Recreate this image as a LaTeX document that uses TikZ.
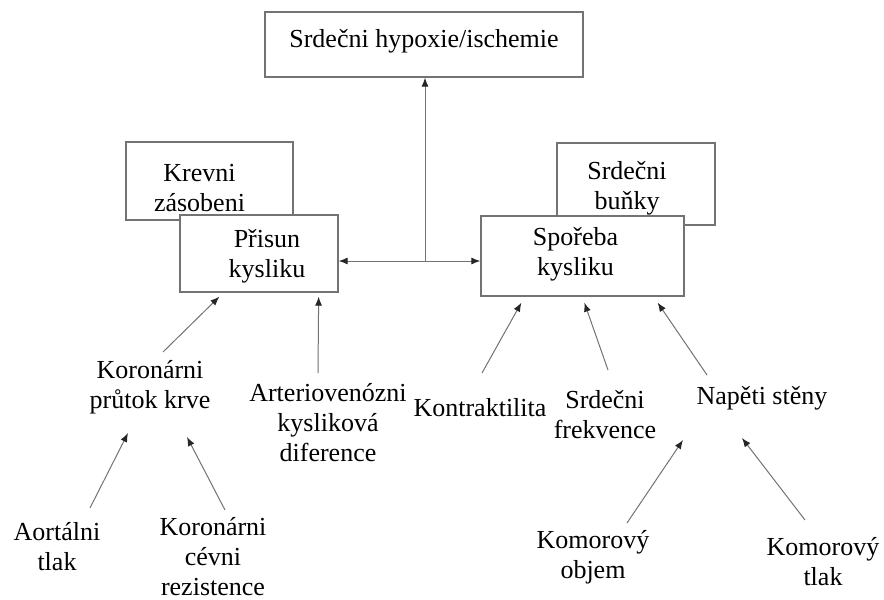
\documentclass[tikz,border=0pt]{standalone}
\usepackage{fontspec}
\setmainfont{Liberation Serif}
\usepackage{tikz}
\usetikzlibrary{arrows.meta,calc}

\begin{document}
\begin{tikzpicture}
[x=1pt,y=-1pt,
  boxDecorate/.style={shape=rectangle,draw=black!55,line width=1.3pt,fill=white,inner sep=0pt},%
  textDecorate/.style={inner sep=0pt,align=center,font=\fontsize{26}{30}\selectfont},%
  arrowDecorate/.style={draw=black!55,line width=1pt,
    -{Latex[length=9pt,width=7pt,color=black!85]}}]
\fill[white] (0,0) rectangle (884,600);
\useasboundingbox (0,0) rectangle (884,600);
%% boxes, text set off the centre as in the figure
\node (hypoxie) at (424,44.5) [boxDecorate,minimum width=318pt,minimum height=65pt,
  label={[textDecorate,yshift=3pt]center:{Srdečni hypoxie/ischemie}}] {};
\node (krevni) at (209.5,181) [boxDecorate,minimum width=167pt,minimum height=78pt,
  label={[textDecorate,xshift=-10pt,yshift=-7pt]center:{Krevni\\zásobeni}}] {};
\node (prisun) at (259,253.5) [boxDecorate,minimum width=158pt,minimum height=77pt,
  label={[textDecorate,xshift=8pt,yshift=-3pt]center:{Přisun\\kysliku}}] {};
\node (bunky) at (636,184) [boxDecorate,minimum width=158pt,minimum height=82pt,
  label={[textDecorate,xshift=-9pt,yshift=-4pt]center:{Srdečni\\buňky}}] {};
\node (sporeba) at (582.5,256) [boxDecorate,minimum width=203pt,minimum height=80pt,
  label={[textDecorate,xshift=-7pt,yshift=2pt]center:{Spořeba\\kysliku}}] {};
%% factors
\foreach \nodename/\x/\y/\txt in {
  koronarni/150/387/{Koronárni\\průtok krve},
  arterio/328/423/{Arteriovenózni\\kysliková\\diference},
  aortalni/57/547/{Aortálni\\tlak},
  rezistence/213/557/{Koronárni\\cévni\\rezistence},
  kontraktilita/480/408/{Kontraktilita},
  frekvence/605/415/{Srdečni\\frekvence},
  napeti/762/398/{Napěti stěny},
  objem/593/557/{Komorový\\objem},
  tlak/823/562/{Komorový\\tlak}} {
  \node (\nodename) at (\x,\y) [textDecorate] {\txt};
}
%% junction between supply and demand
\coordinate (junction) at (425,261);
\draw[arrowDecorate] (junction) -- (hypoxie.south -| junction);
\draw[arrowDecorate] (junction) -- (prisun.east |- junction);
\draw[arrowDecorate] (junction) -- (sporeba.west |- junction);
%% influences
\foreach \startnode/\sx/\sy/\endnode/\ex/\ey in {
  koronarni/13/-35/prisun.south west/40/4,
  arterio/-10/-50/prisun.south east/-20/4,
  aortalni/33/-39/koronarni/-22/46,
  rezistence/12/-47/koronarni/37/50,
  kontraktilita/2/-35/sporeba.south west/41/6,
  frekvence/3/-45/sporeba.south west/104/6,
  napeti/-55/-23/sporeba.south east/-27/6,
  objem/34/-34/napeti/-79/42,
  tlak/-18/-42/napeti/-20/40} {
  \draw[arrowDecorate] ($(\startnode)+(\sx,\sy)$) -- ($(\endnode)+(\ex,\ey)$);
}
\end{tikzpicture}
\end{document}
